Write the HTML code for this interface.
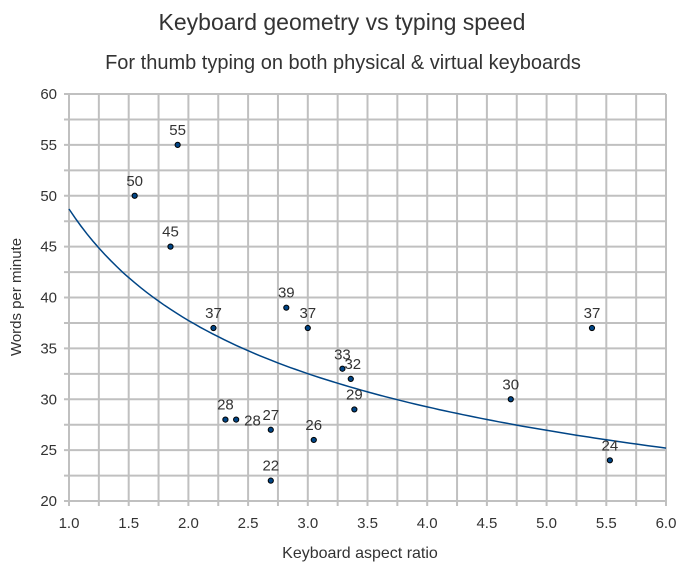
<!DOCTYPE html>
<html><head><meta charset="utf-8"><style>
body{margin:0;background:#fff;font-family:"Liberation Sans",sans-serif}
svg text{font-family:"Liberation Sans",sans-serif;fill:#333}
</style></head><body>
<svg id="c" width="688" height="570">
<text x="342" y="30" font-size="23" text-anchor="middle">Keyboard geometry vs typing speed</text>
<text x="343" y="69" font-size="20" text-anchor="middle">For thumb typing on both physical &amp; virtual keyboards</text>
<text x="360" y="558" font-size="16" text-anchor="middle">Keyboard aspect ratio</text>
<text transform="translate(21,297) rotate(-90)" font-size="15" text-anchor="middle">Words per minute</text>
<g id="grid"></g><g id="ticks"></g><g id="trend"></g><g id="pts"></g>
</svg>
<script>
const xs=[1.55,1.91,1.85,2.21,2.82,3.0,3.29,3.36,3.39,2.31,2.40,2.69,3.05,2.69,4.70,5.38,5.53];
const ys=[50,55,45,37,39,37,33,32,29,28,28,27,26,22,30,37,24];
const xTicks=["1.0","1.5","2.0","2.5","3.0","3.5","4.0","4.5","5.0","5.5","6.0"];
const yTicks=["20","25","30","35","40","45","50","55","60"];
const trendA=48.7, trendB=-0.3677;
const NS="http://www.w3.org/2000/svg";
const X=v=>69+(v-1)*119.4, Y=v=>501-(v-20)*10.175;
function mk(p,t,a){const e=document.createElementNS(NS,t);for(const k in a)e.setAttribute(k,a[k]);document.getElementById(p).appendChild(e);return e;}
for(let v=1;v<=6.001;v+=0.25){const l=mk('grid','line',{x1:X(v),x2:X(v),y1:94,y2:506,stroke:'#c0c0c0','stroke-width':2});

}
for(let v=20;v<=60.001;v+=2.5){const l=mk('grid','line',{x1:64,x2:666,y1:Y(v),y2:Y(v),stroke:'#c0c0c0','stroke-width':2});

}
xTicks.forEach(s=>{const t=mk('ticks','text',{x:X(+s),y:528,'font-size':15,'text-anchor':'middle'});t.textContent=s;

});
yTicks.forEach(s=>{const t=mk('ticks','text',{x:57,y:Y(+s)+5,'font-size':15,'text-anchor':'end'});t.textContent=s;

});
let d='';for(let v=1;v<=6.0001;v+=0.05){d+=(d?'L':'M')+X(v).toFixed(1)+','+Y(trendA*Math.pow(v,trendB)).toFixed(1);}
const tr=mk('trend','path',{d:d,fill:'none',stroke:'#004586','stroke-width':1.5});


xs.forEach((x,i)=>{const c=mk('pts','circle',{cx:X(x),cy:Y(ys[i]),r:2.6,fill:'#004586',stroke:'#000','stroke-width':1});


let lx=X(x),ly=Y(ys[i])-10,anc='middle';
if(i===10){lx=X(x)+8;ly=Y(ys[i])+6;anc='start';}
if(i===7){ly=Y(ys[i])-10;lx=X(x)+2;}
if(i===6){ly=Y(ys[i])-9;}
const t=mk('pts','text',{x:lx,y:ly,'font-size':15,'text-anchor':anc});t.textContent=ys[i];

});
</script>
</body></html>
